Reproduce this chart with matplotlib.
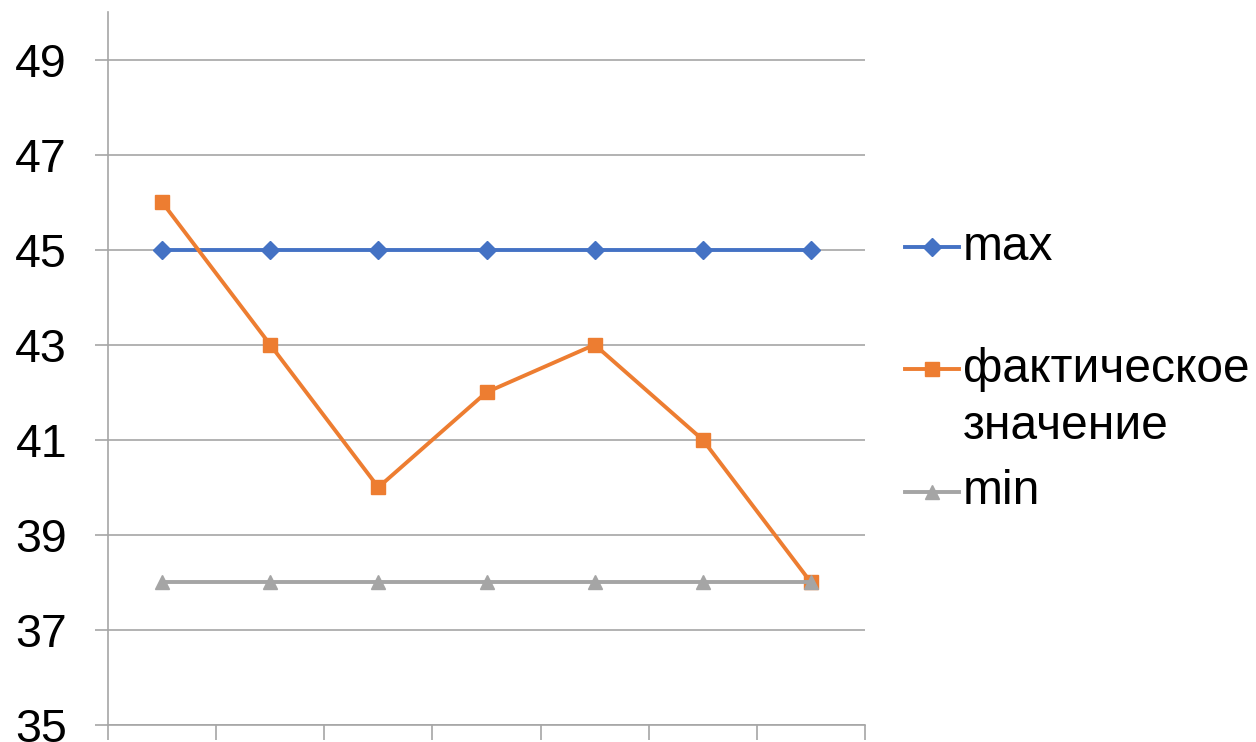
import matplotlib.pyplot as plt

# data
categories = [1, 2, 3, 4, 5, 6, 7]
max_vals = [45, 45, 45, 45, 45, 45, 45]
fact_vals = [46, 43, 40, 42, 43, 41, 38]
min_vals = [38, 38, 38, 38, 38, 38, 38]
series_names = ['max', 'фактическое\nзначение', 'min']

BLUE = '#4472C4'
ORANGE = '#ED7D31'
GREY = '#A5A5A5'
GRID = '#A6A6A6'


def main():
    plt.rcParams['font.family'] = ['Liberation Sans', 'DejaVu Sans']
    fig = plt.figure(figsize=(12.56, 7.42), dpi=100)
    ax = fig.add_axes([108 / 1256, 1 - 725 / 742, 757 / 1256, 713 / 742])

    x = list(range(len(categories)))
    ax.plot(x, max_vals, color=BLUE, lw=2.8, marker='D', ms=9.5, zorder=3)
    ax.plot(x, fact_vals, color=ORANGE, lw=2.8, marker='s', ms=10.5, zorder=3)
    ax.plot(x, min_vals, color=GREY, lw=2.8, marker='^', ms=10, zorder=3)

    ax.set_ylim(35, 50)
    ax.set_yticks(range(35, 50, 2))
    ax.set_xlim(-0.5, len(categories) - 0.5)
    ax.set_xticks([i - 0.5 for i in range(len(categories) + 1)])
    ax.set_xticklabels([])
    ax.yaxis.grid(True, color=GRID, lw=1.2)
    ax.set_axisbelow(True)

    for s in ['top', 'right']:
        ax.spines[s].set_visible(False)
    for s in ['left', 'bottom']:
        ax.spines[s].set_color(GRID)
        ax.spines[s].set_linewidth(1.2)
    ax.tick_params(axis='y', length=9.5, width=1.2, color=GRID, pad=20, labelsize=33.5)
    ax.tick_params(axis='x', length=11, width=1.2, color=GRID)

    # legend drawn by hand so the marker sits on the first line of the label
    colors = [BLUE, ORANGE, GREY]
    markers = ['D', 's', '^']
    sizes = [9.5, 10.5, 10]
    ys = [0.670, 0.499, 0.327]
    for name, c, m, ms, y in zip(series_names, colors, markers, sizes, ys):
        ax.plot([1.053, 1.124], [y, y], color=c, lw=2.8,
                transform=ax.transAxes, clip_on=False)
        ax.plot([1.0885], [y], color=c, marker=m, ms=ms,
                transform=ax.transAxes, clip_on=False)
        lines = name.split('\n')
        for i, line in enumerate(lines):
            ax.text(1.129, y - 0.081 * i, line, fontsize=34.5, va='center',
                    transform=ax.transAxes)

    fig.savefig('out.png', dpi=100)


if __name__ == '__main__':
    main()
